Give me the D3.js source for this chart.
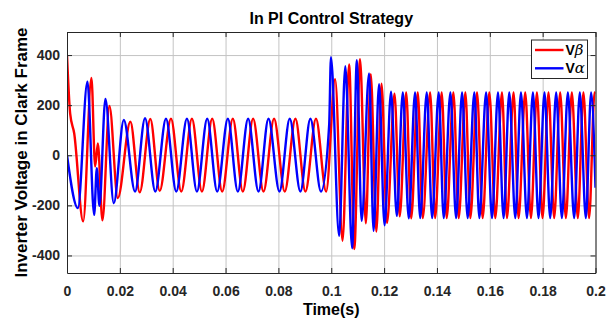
<!DOCTYPE html>
<html>
<head>
<meta charset="utf-8">
<script src="https://cdn.jsdelivr.net/npm/d3@7/dist/d3.min.js"></script>
<style>
  body { margin: 0; background: #fff; }
  svg { display: block; font-family: Arial, "Liberation Sans", Helvetica, sans-serif; }
</style>
</head>
<body>
<svg id="chart" width="612" height="320"></svg>
<script>
// Axis ticks
const xTicks = [0, 0.02, 0.04, 0.06, 0.08, 0.1, 0.12, 0.14, 0.16, 0.18, 0.2];
const xTickLabels = ["0", "0.02", "0.04", "0.06", "0.08", "0.1", "0.12", "0.14", "0.16", "0.18", "0.2"];
const yTicks = [-400, -200, 0, 200, 400];
const yTickLabels = ["-400", "-200", "0", "200", "400"];

// V-alpha waveform: turning points (time in s, voltage in V)
const vAlphaTime = [
  0, 0.00412, 0.00774, 0.01027, 0.01129, 0.01227, 0.01454, 0.01771, 0.02149, 0.02576,
  0.02953, 0.03342, 0.03746, 0.04135, 0.04539, 0.04917, 0.05306, 0.05684, 0.06088, 0.06465,
  0.06854, 0.07247, 0.07625, 0.08040, 0.08429, 0.08833, 0.09211, 0.09611, 0.09921, 0.09989,
  0.10298, 0.10532, 0.10789, 0.10970, 0.11148, 0.11431, 0.11601, 0.11809, 0.12017, 0.12262,
  0.12481, 0.12708, 0.12934, 0.13172, 0.13365, 0.13614, 0.13818, 0.14067, 0.14256, 0.14509,
  0.14724, 0.14951, 0.15162, 0.15415, 0.15604, 0.15861, 0.16084, 0.16310, 0.16522, 0.16737,
  0.16964, 0.17179, 0.17405, 0.17632, 0.17843, 0.18070, 0.18285, 0.18512, 0.18727, 0.18954,
  0.19192, 0.19407, 0.19634, 0.19834, 0.2
];
const vAlphaVolt = [
  0, -211, 294, -238, -52, -202, 225, -191, 141, -145,
  148, -145, 146, -145, 146, -145, 146, -145, 146, -145,
  146, -145, 146, -145, 146, -145, 146, -145, 120, 391,
  -322, 355, -371, 379, -262, 327, -302, 284, -280, 254,
  -242, 251, -252, 251, -251, 251, -251, 251, -251, 251,
  -251, 251, -251, 251, -251, 251, -251, 251, -251, 251,
  -251, 251, -251, 251, -251, 251, -251, 251, -251, 251,
  -251, 251, -251, 251, -130
];

// V-beta waveform: turning points (time in s, voltage in V)
const vBetaTime = [
  0, 0.00121, 0.00272, 0.00612, 0.00925, 0.01065, 0.01167, 0.01341, 0.01605, 0.01922,
  0.02398, 0.02753, 0.03153, 0.03508, 0.03935, 0.04324, 0.04728, 0.05106, 0.05495, 0.05872,
  0.06276, 0.06654, 0.07043, 0.07436, 0.07836, 0.08240, 0.08644, 0.09022, 0.09422, 0.09807,
  0.10147, 0.10427, 0.10676, 0.10872, 0.11091, 0.11310, 0.11495, 0.11707, 0.11903, 0.12111,
  0.12394, 0.12591, 0.12836, 0.13025, 0.13274, 0.13463, 0.13742, 0.13931, 0.14180, 0.14369,
  0.14622, 0.14823, 0.15076, 0.15264, 0.15517, 0.15729, 0.15982, 0.16208, 0.16461, 0.16650,
  0.16900, 0.17088, 0.17341, 0.17557, 0.17783, 0.17995, 0.18221, 0.18436, 0.18663, 0.18878,
  0.19105, 0.19331, 0.19543, 0.19758, 0.19966, 0.2
];
const vBetaVolt = [
  400, 165, 88, -264, 309, -45, 47, -260, 197, -171,
  134, -148, 145, -142, 146, -145, 146, -145, 146, -145,
  146, -145, 146, -145, 146, -145, 146, -145, 146, -145,
  304, -341, 362, -374, 383, -272, 324, -305, 286, -270,
  246, -244, 251, -252, 251, -251, 251, -251, 251, -251,
  251, -251, 251, -251, 251, -251, 251, -251, 251, -251,
  251, -251, 251, -251, 251, -251, 251, -251, 251, -251,
  251, -251, 251, -251, 251, 245
];

const svg = d3.select("#chart");
const plotLeft = 67, plotRight = 595.5, plotTop = 32, plotBottom = 273;
const x = d3.scaleLinear().domain([0, 0.2]).range([plotLeft, plotRight]);
const y = d3.scaleLinear().domain([-470, 492]).range([plotBottom, plotTop]);

const axisColor = "#262626";

// Grid
const grid = svg.append("g");
grid.append("g")
  .attr("transform", `translate(0,${plotBottom})`)
  .call(d3.axisBottom(x).tickValues(xTicks).tickSize(-(plotBottom - plotTop)).tickFormat(""))
  .call(g => g.select(".domain").remove())
  .call(g => g.selectAll("line").attr("stroke", "#c4c4c4").attr("stroke-width", 1));
grid.append("g")
  .attr("transform", `translate(${plotLeft},0)`)
  .call(d3.axisLeft(y).tickValues(yTicks).tickSize(-(plotRight - plotLeft)).tickFormat(""))
  .call(g => g.select(".domain").remove())
  .call(g => g.selectAll("line").attr("stroke", "#c4c4c4").attr("stroke-width", 1));

// Waveforms
svg.append("clipPath").attr("id", "plotClip")
  .append("rect").attr("x", plotLeft).attr("y", plotTop)
  .attr("width", plotRight - plotLeft).attr("height", plotBottom - plotTop);

function drawWave(times, volts, color) {
  const line = d3.line()
    .x(i => x(times[i]))
    .y(i => y(volts[i]))
    .curve(d3.curveMonotoneX);
  svg.append("path")
    .attr("clip-path", "url(#plotClip)")
    .attr("d", line(d3.range(times.length)))
    .attr("fill", "none")
    .attr("stroke", color)
    .attr("stroke-width", 2.4)
    .attr("stroke-linejoin", "round");
}
drawWave(vBetaTime, vBetaVolt, "#ff0000");
drawWave(vAlphaTime, vAlphaVolt, "#0000ff");

// Axes (box with inward ticks)
const tickFont = g => g.selectAll("text")
  .attr("fill", axisColor).attr("font-size", 14).attr("font-weight", "bold")
  .attr("font-family", "Arial, 'Liberation Sans', sans-serif");
const styleAxis = g => {
  g.select(".domain").attr("stroke", axisColor).attr("stroke-width", 1);
  g.selectAll(".tick line").attr("stroke", axisColor);
};

svg.append("g")
  .attr("transform", `translate(0,${plotBottom})`)
  .call(d3.axisBottom(x).tickValues(xTicks).tickFormat((d, i) => xTickLabels[i])
    .tickSizeInner(-5).tickSizeOuter(0).tickPadding(13))
  .call(styleAxis).call(tickFont);
svg.append("g")
  .attr("transform", `translate(0,${plotTop})`)
  .call(d3.axisTop(x).tickValues(xTicks).tickFormat("").tickSizeInner(-5).tickSizeOuter(0))
  .call(styleAxis);
svg.append("g")
  .attr("transform", `translate(${plotLeft},0)`)
  .call(d3.axisLeft(y).tickValues(yTicks).tickFormat((d, i) => yTickLabels[i])
    .tickSizeInner(-5).tickSizeOuter(0).tickPadding(7))
  .call(styleAxis).call(tickFont);
svg.append("g")
  .attr("transform", `translate(${plotRight},0)`)
  .call(d3.axisRight(y).tickValues(yTicks).tickFormat("").tickSizeInner(-5).tickSizeOuter(0))
  .call(styleAxis);

// Titles
svg.append("text")
  .attr("x", (plotLeft + plotRight) / 2).attr("y", 24)
  .attr("text-anchor", "middle")
  .attr("font-size", 16).attr("font-weight", "bold").attr("fill", "#000")
  .text("In PI Control Strategy");
svg.append("text")
  .attr("x", (plotLeft + plotRight) / 2).attr("y", 315)
  .attr("text-anchor", "middle")
  .attr("font-size", 16).attr("font-weight", "bold").attr("fill", "#000")
  .text("Time(s)");
svg.append("text")
  .attr("transform", `translate(27,${(plotTop + plotBottom) / 2}) rotate(-90)`)
  .attr("text-anchor", "middle")
  .attr("font-size", 17).attr("font-weight", "bold").attr("fill", "#000")
  .text("Inverter Voltage in Clark Frame");

// Legend
const legend = svg.append("g").attr("transform", "translate(531.5,40)");
legend.append("rect")
  .attr("width", 56).attr("height", 38.5)
  .attr("fill", "#fff").attr("stroke", axisColor).attr("stroke-width", 1);
const entries = [
  { sym: "β", color: "#ff0000", dy: 10 },
  { sym: "α", color: "#0000ff", dy: 28.3 }
];
entries.forEach(e => {
  legend.append("line")
    .attr("x1", 3.5).attr("x2", 32).attr("y1", e.dy).attr("y2", e.dy)
    .attr("stroke", e.color).attr("stroke-width", 2.4);
  const t = legend.append("text")
    .attr("x", 34).attr("y", e.dy + 5)
    .attr("fill", "#000");
  t.append("tspan").attr("font-size", 14).attr("font-weight", "bold").text("V");
  t.append("tspan").attr("font-size", 15).attr("font-style", "italic")
    .attr("font-family", "'DejaVu Serif', 'Liberation Serif', serif").text(e.sym);
});
</script>
</body>
</html>
